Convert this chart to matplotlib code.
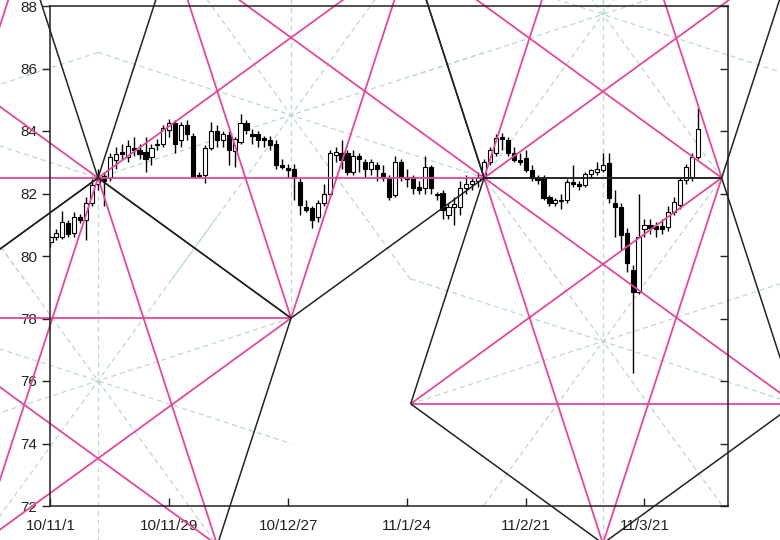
import numpy as np
import matplotlib
matplotlib.use('Agg')
import matplotlib.pyplot as plt

# ---------------- data ----------------
opens = [80.45, 80.60, 80.62, 81.05, 80.73, 81.26, 81.15, 81.70, 82.30, 82.55,
         82.50, 83.07, 83.32, 83.18, 83.45, 83.40, 83.34, 83.18, 83.55, 83.58,
         84.03, 84.25, 83.70, 84.20, 83.84, 82.60, 82.60, 83.45, 84.00, 83.70,
         83.87, 83.35, 83.66, 84.25, 83.90, 83.90, 83.77, 83.70, 83.60, 82.90,
         82.80, 82.80, 82.38, 81.58, 81.54, 81.26, 81.70, 82.00, 83.23, 83.30,
         83.30, 82.70, 83.20, 83.00, 82.80, 82.90, 82.64, 82.50, 81.95, 83.00,
         82.54, 82.54, 82.20, 82.17, 82.86, 82.00, 82.00, 81.31, 81.58, 81.58,
         82.18, 82.30, 82.40, 82.50, 83.00, 83.30, 83.80, 83.70, 83.30, 83.07,
         83.14, 82.75, 82.50, 82.50, 81.88, 81.70, 81.75, 81.80, 82.38, 82.30,
         82.27, 82.63, 82.70, 82.75, 82.97, 81.70, 81.57, 80.73, 79.55, 78.86,
         80.87, 81.00, 80.95, 80.95, 80.94, 81.42, 81.63, 82.43, 82.54, 83.18]
highs = [80.65, 80.85, 81.45, 81.15, 81.42, 81.35, 81.90, 82.45, 82.80, 82.70,
         83.30, 83.50, 83.60, 83.70, 83.80, 83.60, 83.80, 83.60, 83.75, 84.20,
         84.40, 84.35, 84.30, 84.35, 83.95, 82.70, 83.55, 84.30, 84.20, 84.00,
         84.00, 83.80, 84.56, 84.35, 84.05, 84.00, 83.85, 83.85, 83.70, 83.10,
         82.95, 82.95, 82.50, 81.80, 81.60, 81.80, 82.30, 83.40, 83.50, 83.70,
         83.40, 83.40, 83.30, 83.10, 83.10, 83.00, 82.90, 82.60, 83.20, 83.10,
         82.80, 82.60, 82.40, 83.20, 82.90, 82.05, 82.10, 81.70, 81.90, 82.40,
         82.60, 82.50, 82.70, 83.10, 83.50, 83.90, 83.95, 83.80, 83.50, 83.30,
         83.40, 82.90, 82.60, 82.60, 81.95, 81.85, 82.00, 82.45, 82.90, 82.40,
         82.70, 82.80, 83.00, 83.30, 83.30, 82.10, 81.70, 80.90, 79.70, 82.00,
         81.20, 81.20, 81.10, 81.20, 81.60, 81.90, 82.50, 82.95, 83.30, 84.74]
lows = [80.30, 80.50, 80.55, 80.60, 80.60, 81.05, 80.50, 81.60, 82.10, 81.60,
        82.40, 82.80, 83.10, 83.00, 83.20, 83.10, 82.70, 82.90, 83.40, 83.50,
        83.80, 83.30, 83.50, 83.70, 82.50, 82.50, 82.35, 83.40, 83.50, 83.50,
        82.90, 82.86, 83.60, 83.90, 83.60, 83.50, 83.50, 83.40, 82.80, 82.80,
        82.50, 81.80, 81.30, 81.40, 80.90, 81.10, 81.60, 81.90, 83.00, 82.80,
        82.60, 82.60, 82.70, 82.50, 82.60, 82.40, 82.40, 81.80, 81.90, 82.40,
        82.20, 82.00, 82.00, 82.00, 82.00, 81.80, 81.20, 81.20, 81.00, 81.30,
        82.00, 82.10, 82.20, 82.40, 82.90, 83.20, 83.40, 83.20, 83.00, 82.90,
        82.70, 82.40, 82.30, 81.80, 81.60, 81.60, 81.50, 81.70, 82.20, 82.10,
        82.20, 82.50, 82.60, 82.70, 81.70, 80.60, 80.20, 79.50, 76.25, 78.80,
        80.60, 80.70, 80.60, 80.70, 80.80, 81.30, 81.50, 82.30, 82.40, 83.10]
closes = [80.60, 80.75, 81.10, 80.70, 81.26, 81.15, 81.69, 82.27, 82.50, 82.40,
          83.18, 83.26, 83.25, 83.53, 83.40, 83.26, 83.10, 83.45, 83.60, 84.09,
          84.25, 83.60, 84.20, 83.90, 82.54, 82.55, 83.45, 84.00, 83.70, 83.90,
          83.39, 83.75, 84.25, 84.03, 83.83, 83.70, 83.70, 83.55, 82.90, 82.85,
          82.74, 82.50, 81.63, 81.47, 81.15, 81.70, 82.00, 83.30, 83.34, 83.07,
          82.70, 83.20, 83.10, 82.80, 83.00, 82.80, 82.50, 81.90, 83.00, 82.54,
          82.45, 82.17, 82.10, 82.86, 82.17, 81.95, 81.47, 81.58, 81.65, 82.18,
          82.30, 82.40, 82.50, 83.00, 83.40, 83.78, 83.75, 83.30, 83.07, 83.00,
          82.75, 82.50, 82.43, 81.85, 81.70, 81.78, 81.80, 82.38, 82.30, 82.25,
          82.63, 82.75, 82.80, 82.90, 81.85, 81.57, 80.67, 79.78, 78.85, 80.62,
          81.00, 80.90, 80.85, 80.85, 81.42, 81.74, 82.43, 82.86, 83.18, 84.08]

tick_idx = [0, 20, 40, 60, 80, 100]
tick_labels = ['10/11/1', '10/11/29', '10/12/27', '11/1/24', '11/2/21', '11/3/21']
y_ticks = [72, 74, 76, 78, 80, 82, 84, 86, 88]

# pivots of the pentagram construction (day index, price)
pivot_idx = [8, 73, 113]
pivot_price = [82.5, 82.5, 82.5]

PINK = '#e2489c'
DASH = '#bcd8d2'
INK = '#222222'

plt.rcParams['font.family'] = ['Liberation Sans', 'DejaVu Sans']

fig = plt.figure(figsize=(7.8, 5.4), dpi=100)
ax = fig.add_axes([50 / 780, 34 / 540, 678 / 780, 500 / 540])
ax.set_xlim(-0.08, 114.06)
ax.set_ylim(72, 88)

# ---------------- candles ----------------
idx = np.arange(len(opens))
o = np.array(opens); c = np.array(closes)
h = np.array(highs); l = np.array(lows)
up = c >= o
ax.vlines(idx, l, h, color='black', lw=1.0, zorder=3)
body_bot = np.minimum(o, c)
body_h = np.maximum(np.abs(c - o), 0.04)
ax.bar(idx[up], body_h[up], bottom=body_bot[up], width=0.7,
       color='white', edgecolor='black', lw=0.8, zorder=4)
ax.bar(idx[~up], body_h[~up], bottom=body_bot[~up], width=0.7,
       color='black', edgecolor='black', lw=0.8, zorder=4)

# ---------------- pentagram geometry (built in display space) ----------------
T = ax.transData
Tinv = T.inverted()
P = T.transform(np.column_stack([pivot_idx, pivot_price]))
A, B, C = P[0], P[1], P[2]

UP = [0, 72, 144, 216, 288]
DOWN = [36, 108, 180, 252, 324]


def verts(center, r, thetas):
    th = np.radians(thetas)
    return np.column_stack([center[0] + r * np.sin(th), center[1] + r * np.cos(th)])


s72 = np.sin(np.radians(72)); c72 = np.cos(np.radians(72))
s36 = np.sin(np.radians(36)); c36 = np.cos(np.radians(36))
r1 = np.linalg.norm(B - A) / (2 * s72)
r2 = np.linalg.norm(C - B) / (2 * s36)
midAB = (A + B) / 2
midBC = (B + C) / 2
stars = [
    (np.array([A[0] - r1 * s72, A[1] + r1 * c72]), r1, DOWN),
    (np.array([A[0], A[1] - r1]), r1, UP),
    (np.array([midAB[0], A[1] + r1 * c72]), r1, DOWN),
    (np.array([midBC[0], B[1] - r2 * c36]), r2, DOWN),
    (np.array([midBC[0], B[1] + r2 * c36]), r2, UP),
]


def seg(p, q, **kw):
    d = Tinv.transform(np.vstack([p, q]))
    ax.plot(d[:, 0], d[:, 1], clip_on=False, solid_capstyle='butt', **kw)


for center, r, th in stars:
    for t in UP:
        dvec = np.array([np.sin(np.radians(t)), np.cos(np.radians(t))]) * r
        seg(center + dvec, center - dvec, color=DASH, lw=0.9,
            linestyle=(0, (4, 3)), zorder=1)
for center, r, th in stars:
    V = verts(center, r, th)
    for k in range(5):
        seg(V[k], V[(k + 2) % 5], color=PINK, lw=1.3, zorder=5)
for center, r, th in stars:
    V = verts(center, r, th)
    for k in range(5):
        seg(V[k], V[(k + 1) % 5], color=INK, lw=1.1, zorder=6)

# ---------------- axes styling ----------------
ax.set_xticks(tick_idx)
ax.set_xticklabels(tick_labels)
ax.set_yticks(y_ticks)
ax.set_yticklabels([str(v) for v in y_ticks])
ax.tick_params(axis='x', direction='in', length=6, width=1, pad=9,
               labelsize=11, colors=INK)
ax.tick_params(axis='y', direction='out', length=6, width=1, pad=3,
               labelsize=11, colors=INK)
for sp in ax.spines.values():
    sp.set_linewidth(1.1)
    sp.set_color(INK)
    sp.set_zorder(7)

# inward ticks on the right spine
ax2 = ax.twinx()
ax2.set_ylim(72, 88)
ax2.set_yticks(y_ticks)
ax2.tick_params(axis='y', direction='in', length=6, width=1,
                labelright=False, colors=INK)
for sp in ax2.spines.values():
    sp.set_visible(False)

fig.savefig('out.png', dpi=100)
